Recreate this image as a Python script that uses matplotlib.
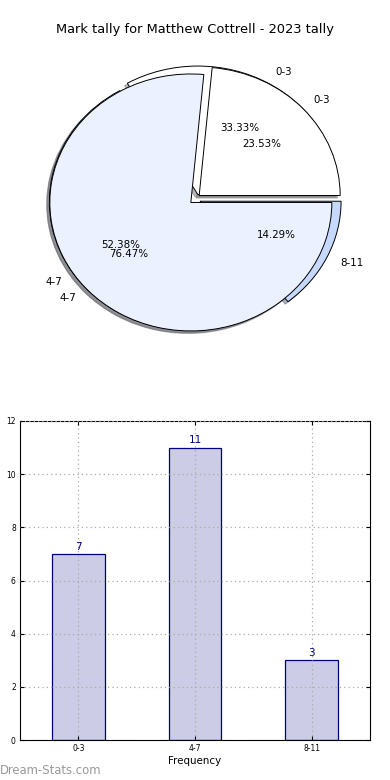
import matplotlib
matplotlib.use('Agg')
import matplotlib.pyplot as plt

# data
ranges = ['0-3', '4-7', '8-11']
games = [7, 11, 3]
ranges_prev = ['0-3', '4-7']
games_prev = [4, 13]
pie_colors = ['#FFFFFF', '#EBF1FE', '#C6D9FD']

navy = '#000080'

fig = plt.figure(figsize=(3.9, 7.8), dpi=100)

"Pie"

sombra = {'ox': -0.014, 'oy': -0.014, 'shade': 0.55}
ax1 = fig.add_axes([20/390, (780-350)/780, 350/390, 300/780])
ax1.pie(games, labels=ranges, colors=pie_colors, autopct='%.2f%%',
        explode=[0.04]*3, startangle=0, shadow=sombra,
        wedgeprops={'edgecolor': 'black', 'linewidth': 0.7},
        textprops={'fontsize': 7.4})
ax1.pie(games_prev, labels=ranges_prev, colors=pie_colors[:2], autopct='%.2f%%',
        explode=[0.04]*2, startangle=0, shadow=sombra,
        wedgeprops={'edgecolor': 'black', 'linewidth': 0.7},
        textprops={'fontsize': 7.4})
ax1.set_aspect('auto')
ax1.set_xlim(-175/141, 175/141)
ax1.set_ylim(-151/128.5, 149/128.5)
ax1.axis('off')

fig.text(0.5, 1 - 30/780, 'Mark tally for Matthew Cottrell - 2023 tally',
         ha='center', va='center', fontsize=9.4)

"Barras"

ax2 = fig.add_axes([20/390, 40/780, 350/390, 319/780])
x = list(range(len(ranges)))
bars = ax2.bar(x, games, width=0.45, color='#CCCCE6', edgecolor=navy, linewidth=0.9, zorder=2)
for xi, g in zip(x, games):
    ax2.text(xi, g + 0.08, str(g), ha='center', va='bottom', color=navy, fontsize=7.5)

ax2.set_xlim(-0.5, 2.5)
ax2.set_ylim(0, 12)
ax2.set_xticks(x)
ax2.set_xticklabels(ranges)
ax2.set_yticks(range(0, 13, 2))
ax2.tick_params(direction='in', labelsize=5.5, top=True, right=True, length=3, pad=3)
ax2.grid(True, linestyle=(0, (1, 2.5)), color='#aaaaaa', linewidth=0.9, zorder=3)
ax2.set_axisbelow(False)
ax2.set_xlabel('Frequency', fontsize=7.4, labelpad=2)

fig.text(-6/390, 1 - 580/780, 'Mark Tally', rotation=90, ha='center', va='center', fontsize=8)
fig.text(0, 1 - 770/780, 'Dream-Stats.com', ha='left', va='center', fontsize=8.4, color='#999999')

fig.savefig('out.png', dpi=100)
